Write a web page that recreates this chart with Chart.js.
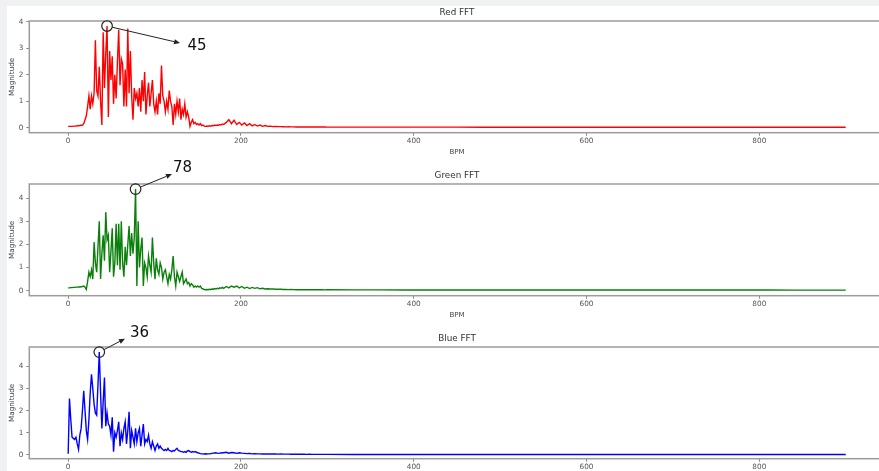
<!DOCTYPE html>
<html>
<head>
<meta charset="utf-8">
<script src="https://cdn.jsdelivr.net/npm/chart.js@4/dist/chart.umd.min.js"></script>
<style>
  html, body { margin: 0; padding: 0; width: 879px; height: 471px; overflow: hidden; background: #f0f1f3; }
  #panel { position: absolute; left: 7px; top: 6px; right: 0; bottom: 0; background: #ffffff; }
  canvas { position: absolute; left: 0; }
</style>
</head>
<body>
<div id="panel"></div>
<canvas id="redFFT" width="900" height="163" style="top:0px"></canvas>
<canvas id="greenFFT" width="900" height="183" style="top:143px"></canvas>
<canvas id="blueFFT" width="900" height="183" style="top:306px"></canvas>
<script>
// Frequency bins (BPM)
const bpm = [
  0, 1.5, 3, 4.5, 6, 7.5, 9, 10.5, 12, 13.5,
  15, 16.5, 18, 19.5, 21, 22.5, 24, 25.5, 27, 28.5,
  30, 31.5, 33, 34.5, 36, 37.5, 39, 40.5, 42, 43.5,
  45, 46.5, 48, 49.5, 51, 52.5, 54, 55.5, 57, 58.5,
  60, 61.5, 63, 64.5, 66, 67.5, 69, 70.5, 72, 73.5,
  75, 76.5, 78, 79.5, 81, 82.5, 84, 85.5, 87, 88.5,
  90, 91.5, 93, 94.5, 96, 97.5, 99, 100.5, 102, 103.5,
  105, 106.5, 108, 109.5, 111, 112.5, 114, 115.5, 117, 118.5,
  120, 121.5, 123, 124.5, 126, 127.5, 129, 130.5, 132, 133.5,
  135, 136.5, 138, 139.5, 141, 142.5, 144, 145.5, 147, 148.5,
  150, 151.5, 153, 154.5, 156, 157.5, 159, 160.5, 162, 163.5,
  165, 166.5, 168, 169.5, 171, 172.5, 174, 175.5, 177, 178.5,
  180,
  183, 186, 189, 192, 195, 198, 201, 204, 207, 210,
  213, 216, 219, 222, 225, 228, 231, 234, 237, 240,
  243, 246, 249, 252, 255, 258, 261, 264, 267, 270,
  273, 276, 279, 282, 285, 288, 291, 294, 297, 300,
  330, 360, 390, 420, 450, 480, 510, 540, 570, 600,
  630, 660, 690, 720, 750, 780, 810, 840, 870, 900
];

// FFT magnitude of the red channel
const redMag = [
  0.05, 0.05, 0.05, 0.05, 0.06, 0.06, 0.06, 0.07, 0.07, 0.08,
  0.09, 0.1, 0.15, 0.3, 0.45, 0.8, 1.2, 0.7, 1.2, 0.9,
  1.3, 3.3, 1.4, 1.2, 2.3, 1.0, 0.1, 3.6, 1.5, 2.8,
  3.84, 0.4, 2.9, 1.8, 2.7, 0.9, 2.0, 1.1, 2.5, 3.7,
  1.6, 2.6, 2.4, 0.8, 2.2, 0.8, 3.75, 1.3, 2.9, 1.2,
  0.3, 1.5, 1.1, 1.3, 0.8, 1.5, 0.6, 1.8, 1.0, 2.1,
  0.5, 1.2, 1.7, 0.8, 1.3, 1.8, 0.9, 0.6, 1.0, 0.5,
  1.3, 0.9, 2.35, 1.2, 1.0, 0.6, 1.0, 0.7, 1.4, 1.0,
  0.8, 0.1, 0.9, 0.5, 1.0, 0.6, 1.1, 0.3, 0.7, 0.5,
  0.9, 0.4, 0.6, 0.4, 0.05, 0.2, 0.3, 0.15, 0.2, 0.12,
  0.15, 0.1, 0.15, 0.08, 0.1, 0.06, 0.05, 0.06, 0.05, 0.07,
  0.06, 0.08, 0.07, 0.1, 0.08, 0.1, 0.09, 0.12, 0.1, 0.14,
  0.12,
  0.2, 0.3, 0.15, 0.28, 0.12, 0.2, 0.1, 0.18, 0.08, 0.15,
  0.07, 0.12, 0.06, 0.1, 0.05, 0.08, 0.05, 0.06, 0.04, 0.05,
  0.04, 0.04, 0.035, 0.03, 0.035, 0.03, 0.03, 0.028, 0.03, 0.025,
  0.03, 0.028, 0.025, 0.027, 0.025, 0.024, 0.025, 0.023, 0.024, 0.022,
  0.022, 0.02, 0.02, 0.019, 0.02, 0.018, 0.018, 0.017, 0.018, 0.017,
  0.016, 0.016, 0.017, 0.016, 0.015, 0.016, 0.015, 0.015, 0.016, 0.015
];

// FFT magnitude of the green channel
const greenMag = [
  0.12, 0.12, 0.13, 0.13, 0.14, 0.14, 0.15, 0.15, 0.16, 0.16,
  0.17, 0.18, 0.2, 0.15, 0.05, 0.4, 0.8, 0.6, 0.9, 0.5,
  2.1, 1.2, 0.8, 1.9, 3.0, 0.5, 1.6, 2.4, 1.3, 3.4,
  2.2, 2.4, 0.8, 1.7, 2.7, 0.6, 1.2, 2.9, 1.1, 2.9,
  0.9, 3.0, 1.2, 0.6, 1.9, 1.1, 2.0, 2.8, 1.5, 2.5,
  1.6, 2.3, 4.4, 0.2, 3.0, 1.0, 1.8, 2.3, 0.2, 1.2,
  1.0, 0.6, 1.5, 1.1, 0.8, 2.3, 1.2, 0.5, 1.4, 0.9,
  0.7, 1.2, 1.0, 0.5, 0.8, 0.9, 0.6, 0.3, 0.7, 0.5,
  0.9, 1.5, 0.6, 0.2, 0.8, 0.6, 0.4, 0.6, 0.8, 0.3,
  0.4, 0.5, 0.3, 0.35, 0.2, 0.3, 0.25, 0.15, 0.2, 0.15,
  0.2, 0.15, 0.2, 0.1, 0.08, 0.05, 0.04, 0.05, 0.04, 0.06,
  0.05, 0.07, 0.06, 0.09, 0.07, 0.1, 0.08, 0.12, 0.1, 0.14,
  0.1,
  0.18, 0.12, 0.2, 0.15, 0.2, 0.12, 0.18, 0.1, 0.15, 0.09,
  0.14, 0.1, 0.13, 0.08, 0.1, 0.07, 0.08, 0.07, 0.07, 0.06,
  0.06, 0.06, 0.05, 0.05, 0.045, 0.05, 0.045, 0.04, 0.045, 0.04,
  0.04, 0.042, 0.038, 0.04, 0.036, 0.038, 0.035, 0.036, 0.034, 0.035,
  0.033, 0.032, 0.03, 0.03, 0.029, 0.028, 0.028, 0.027, 0.027, 0.026,
  0.026, 0.025, 0.025, 0.025, 0.024, 0.024, 0.024, 0.023, 0.023, 0.023
];

// FFT magnitude of the blue channel
const blueMag = [
  0.05, 2.55, 1.6, 0.8, 0.75, 0.7, 0.8, 0.5, 0.25, 0.9,
  1.2, 2.0, 2.9, 2.0, 1.1, 0.7, 1.6, 2.8, 3.65, 3.0,
  2.3, 1.9, 1.8, 3.2, 4.65, 2.8, 1.2, 2.4, 3.5, 1.3,
  1.9, 1.4, 1.3, 0.9, 1.7, 0.15, 1.0, 0.8, 1.1, 1.5,
  0.4, 1.0, 0.7, 1.2, 1.5, 0.5, 1.1, 1.95, 0.3, 1.1,
  0.8, 0.5, 1.2, 0.6, 1.0, 1.2, 0.4, 0.9, 1.4, 0.5,
  0.7, 0.6, 0.9, 0.5, 0.3, 0.6, 0.4, 0.2, 0.4, 0.5,
  0.3, 0.4, 0.3, 0.25, 0.2, 0.25, 0.2, 0.3, 0.2, 0.18,
  0.15, 0.2, 0.18, 0.25, 0.3, 0.2, 0.18, 0.15, 0.15, 0.12,
  0.15, 0.12, 0.18, 0.2, 0.15, 0.12, 0.15, 0.13, 0.15, 0.12,
  0.1, 0.08, 0.06, 0.05, 0.05, 0.04, 0.05, 0.04, 0.05, 0.05,
  0.06, 0.07, 0.08, 0.09, 0.1, 0.08, 0.07, 0.08, 0.09, 0.1,
  0.1,
  0.12, 0.08, 0.11, 0.1, 0.07, 0.1, 0.08, 0.07, 0.06, 0.07,
  0.05, 0.06, 0.05, 0.05, 0.045, 0.05, 0.04, 0.045, 0.04, 0.04,
  0.035, 0.04, 0.035, 0.035, 0.035, 0.03, 0.032, 0.03, 0.03, 0.028,
  0.03, 0.027, 0.028, 0.026, 0.027, 0.025, 0.026, 0.025, 0.025, 0.024,
  0.023, 0.022, 0.022, 0.021, 0.021, 0.02, 0.02, 0.02, 0.019, 0.019,
  0.019, 0.018, 0.018, 0.018, 0.018, 0.017, 0.017, 0.017, 0.017, 0.017
];

// Dominant frequency of each channel (BPM)
const redPeak = 45;
const greenPeak = 78;
const bluePeak = 36;

// Axis ticks
const xTicks = [0, 200, 400, 600, 800];
const yTicks = [0, 1, 2, 3, 4];

const FONT = 'DejaVu Sans';

// Axes box on all four sides
const framePlugin = {
  id: 'frame',
  afterDraw(chart, args, opts) {
    const { ctx, chartArea: a } = chart;
    ctx.save();
    ctx.strokeStyle = opts.color;
    ctx.lineWidth = opts.width;
    ctx.strokeRect(a.left, a.top, a.right - a.left, a.bottom - a.top);
    ctx.restore();
  }
};

// Circle on the peak bin, arrow and the peak's BPM as text
const peakPlugin = {
  id: 'peakNote',
  afterDraw(chart, args, opts) {
    const { ctx } = chart;
    const xs = chart.scales.x, ys = chart.scales.y;
    const pt = chart.data.datasets[0].data.find(p => p.x === opts.bpm);
    if (!pt) return;
    const px = xs.getPixelForValue(pt.x);
    const py = ys.getPixelForValue(pt.y);
    ctx.save();
    ctx.strokeStyle = '#222';
    ctx.fillStyle = '#222';
    ctx.lineWidth = 1.2;
    ctx.beginPath();
    ctx.arc(px, py, opts.radius, 0, Math.PI * 2);
    ctx.stroke();

    const tx = px + opts.tip[0], ty = py + opts.tip[1];
    const ang = Math.atan2(ty - py, tx - px);
    const sx = px + Math.cos(ang) * opts.radius;
    const sy = py + Math.sin(ang) * opts.radius;
    const head = 6, half = 2.6;
    const bx = tx - Math.cos(ang) * head, by = ty - Math.sin(ang) * head;
    ctx.lineWidth = 1;
    ctx.beginPath();
    ctx.moveTo(sx, sy);
    ctx.lineTo(bx, by);
    ctx.stroke();
    ctx.beginPath();
    ctx.moveTo(tx, ty);
    ctx.lineTo(bx - Math.sin(ang) * half, by + Math.cos(ang) * half);
    ctx.lineTo(bx + Math.sin(ang) * half, by - Math.cos(ang) * half);
    ctx.closePath();
    ctx.fill();

    ctx.font = '15px "' + FONT + '"';
    ctx.fillStyle = '#111';
    ctx.textAlign = 'left';
    ctx.textBaseline = 'middle';
    ctx.fillText(String(opts.bpm), px + opts.text[0], py + opts.text[1]);
    ctx.restore();
  }
};

function makeFFT(id, title, values, color, yMin, yMax, topPad, note) {
  const points = bpm.map((b, i) => ({ x: b, y: values[i] }));
  return new Chart(document.getElementById(id), {
    type: 'line',
    data: {
      datasets: [{
        data: points,
        borderColor: color,
        borderWidth: 1.4,
        pointRadius: 0,
        tension: 0,
        fill: false
      }]
    },
    options: {
      responsive: false,
      animation: false,
      devicePixelRatio: 1,
      layout: { padding: { left: 0, right: 15.4, top: topPad, bottom: 0 } },
      plugins: {
        legend: { display: false },
        tooltip: { enabled: false },
        title: {
          display: true,
          text: title,
          fullSize: false,
          color: '#333',
          font: { family: FONT, size: 8.8, weight: 'normal', lineHeight: 1.2 },
          padding: { top: 7.7, bottom: 2.74 }
        },
        frame: { color: '#9c9c9c', width: 1.5 },
        peakNote: note
      },
      scales: {
        x: {
          type: 'linear',
          min: -45,
          max: 945,
          afterBuildTicks: s => { s.ticks = xTicks.map(v => ({ value: v })); },
          afterFit: s => { s.height = 30.3; },
          ticks: {
            autoSkip: false,
            maxRotation: 0,
            padding: 1.5,
            color: '#555',
            font: { family: FONT, size: 7.3, lineHeight: 1.2 }
          },
          grid: { drawOnChartArea: false, drawTicks: true, tickLength: 3, color: '#888' },
          border: { display: false },
          title: {
            display: true,
            text: 'BPM',
            color: '#444',
            font: { family: FONT, size: 7, lineHeight: 1.2 },
            padding: { top: 0, bottom: 6.8 }
          }
        },
        y: {
          min: yMin,
          max: yMax,
          afterBuildTicks: s => { s.ticks = yTicks.map(v => ({ value: v })); },
          afterFit: s => { s.width = 29.3; },
          ticks: {
            padding: 3,
            color: '#555',
            font: { family: FONT, size: 7.3, lineHeight: 1.2 }
          },
          grid: { drawOnChartArea: false, drawTicks: true, tickLength: 3, color: '#888' },
          border: { display: false },
          title: {
            display: true,
            text: 'Magnitude',
            color: '#444',
            font: { family: FONT, size: 7.2, lineHeight: 1.2 },
            padding: { top: 8.3, bottom: 0 }
          }
        }
      }
    },
    plugins: [framePlugin, peakPlugin]
  });
}

makeFFT('redFFT', 'Red FFT', redMag, '#ff0000', -0.19, 4.03, 0,
  { bpm: redPeak, radius: 5.3, tip: [73, 17], text: [80.5, 20] });
makeFFT('greenFFT', 'Green FFT', greenMag, '#0a800a', -0.22, 4.62, 20,
  { bpm: greenPeak, radius: 5.3, tip: [36.4, -15], text: [37.4, -20.5] });
makeFFT('blueFFT', 'Blue FFT', blueMag, '#0000ff', -0.17, 4.88, 20,
  { bpm: bluePeak, radius: 5.3, tip: [25.7, -13.4], text: [30.7, -19.2] });
</script>
</body>
</html>
